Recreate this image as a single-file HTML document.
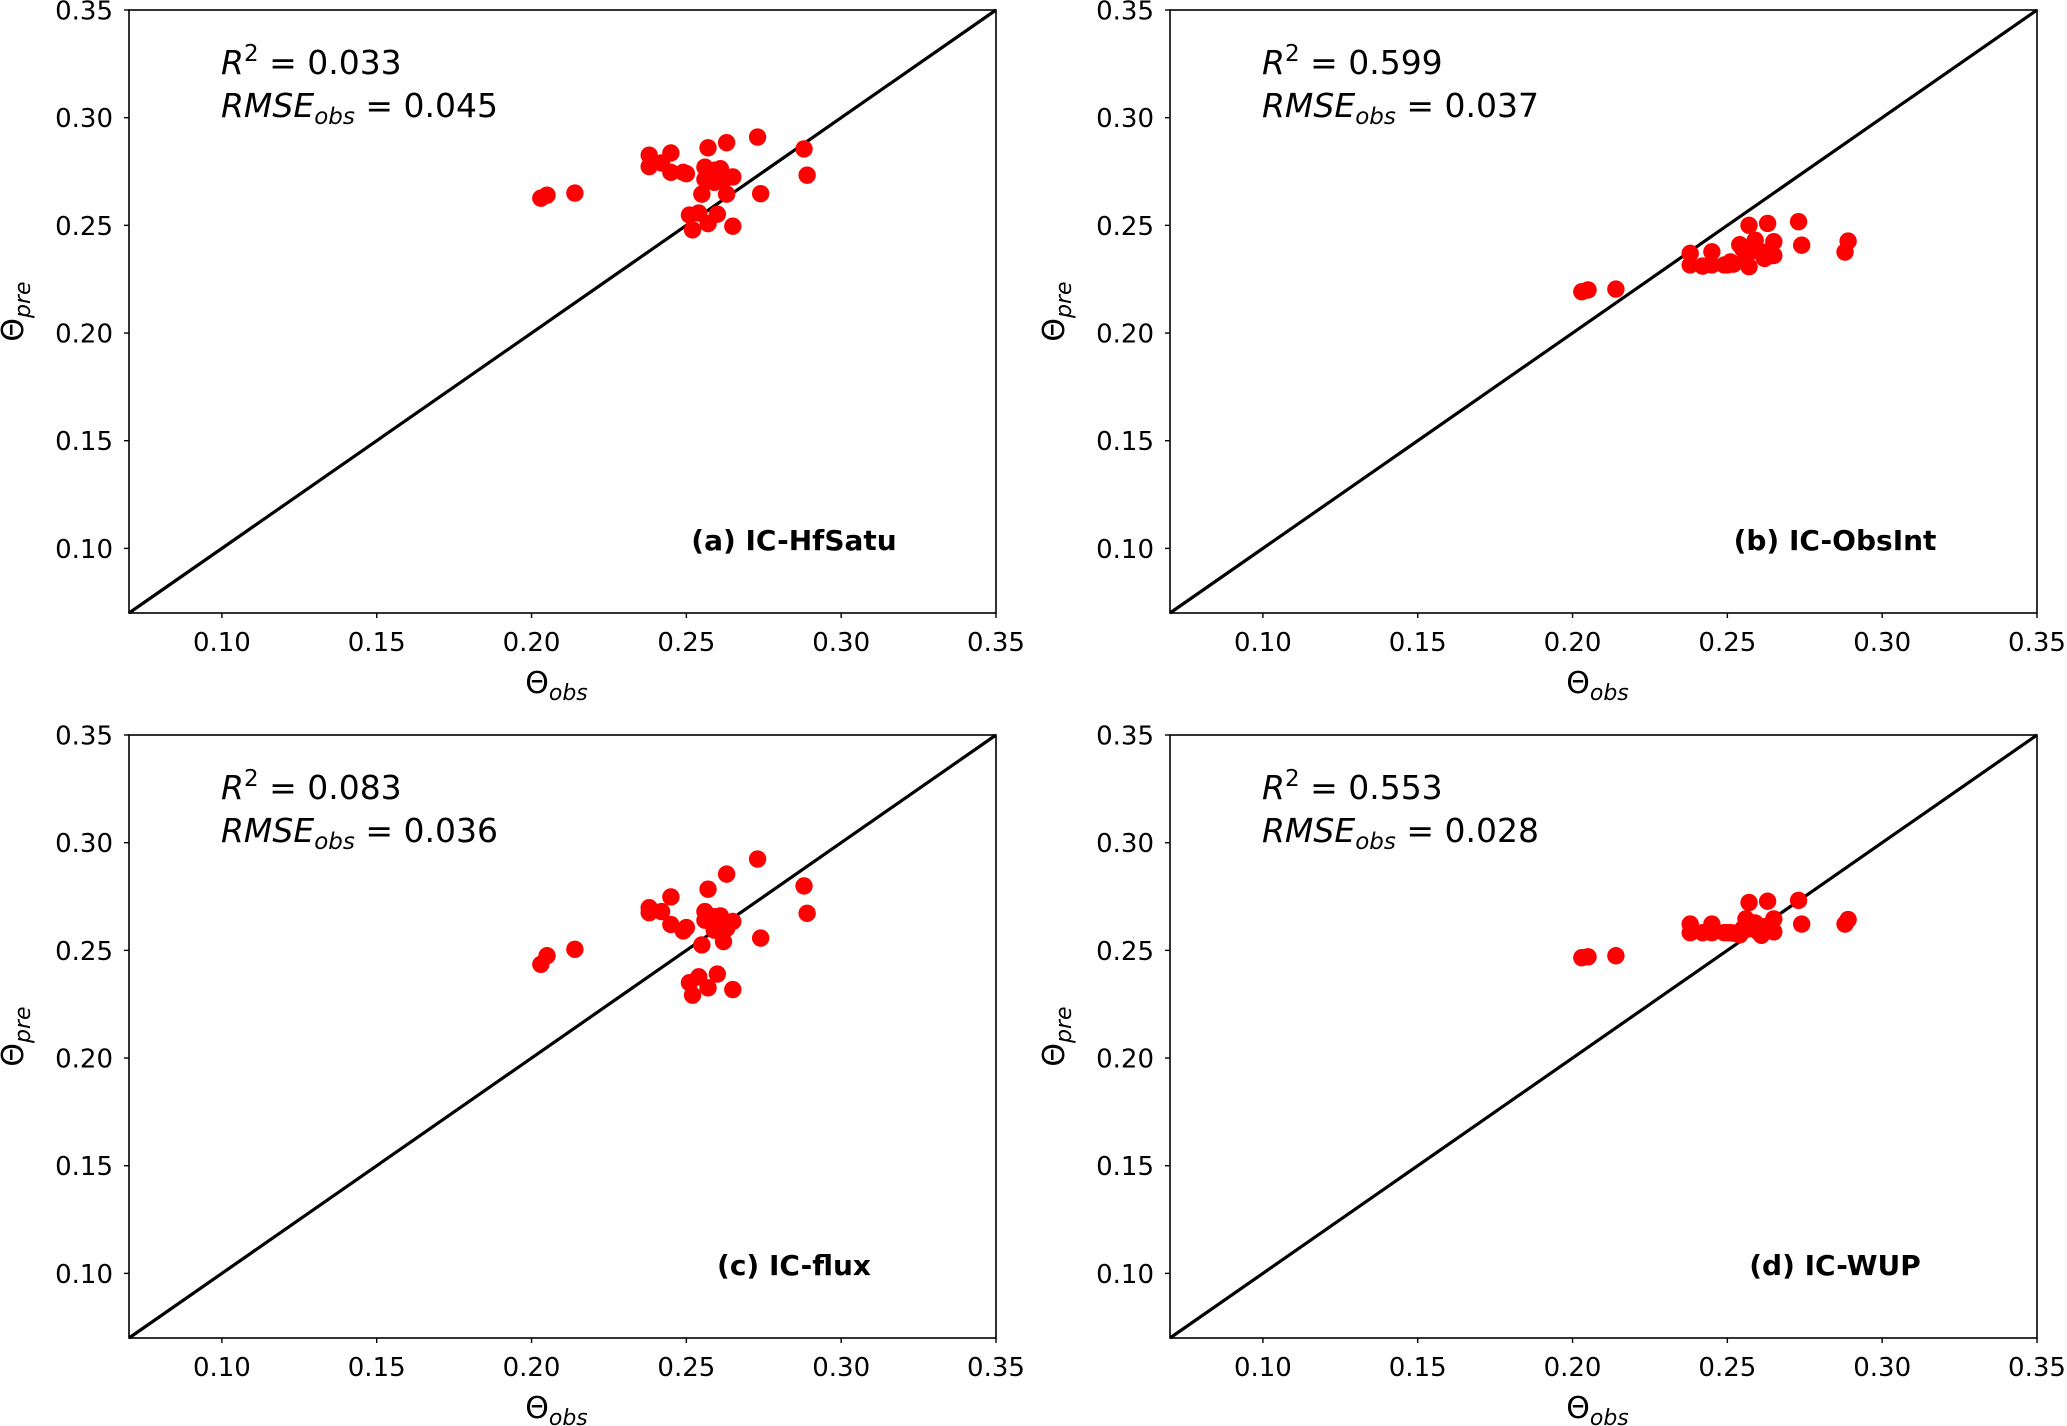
<!DOCTYPE html>
<html><head><meta charset="utf-8">
<style>
html,body{margin:0;padding:0;background:#fff;}
svg{display:block;font-family:"DejaVu Sans","Liberation Sans",sans-serif;}
</style></head>
<body>
<svg id="fig" width="2067" height="1426" viewBox="0 0 2067 1426" xmlns="http://www.w3.org/2000/svg"></svg>
<script>
const obsValues = [0.203,0.205,0.214,0.238,0.238,0.242,0.245,0.245,0.249,0.250,0.257,0.263,0.273,0.288,0.289,0.274,0.256,0.256,0.259,0.261,0.265,0.263,0.255,0.262,0.251,0.254,0.260,0.252,0.257,0.265,0.259];
const preA = [0.2626,0.264,0.265,0.2826,0.2773,0.279,0.2836,0.2746,0.2746,0.274,0.286,0.2884,0.291,0.2855,0.2733,0.2647,0.277,0.2714,0.2756,0.2763,0.2725,0.2645,0.2645,0.271,0.2548,0.2557,0.2552,0.2479,0.2508,0.2496,0.270];
const preB = [0.2192,0.2200,0.2204,0.237,0.2316,0.2311,0.2377,0.2316,0.2316,0.2316,0.250,0.2509,0.2517,0.2376,0.2427,0.2408,0.2395,0.2360,0.2431,0.2377,0.2424,0.2355,0.2390,0.2346,0.2330,0.2410,0.2380,0.2320,0.2308,0.2360,0.2400];
const preC = [0.2435,0.2475,0.2505,0.2698,0.2675,0.268,0.2748,0.262,0.259,0.2606,0.2784,0.2854,0.2924,0.2799,0.2672,0.2557,0.268,0.264,0.2656,0.266,0.2634,0.2602,0.2525,0.2541,0.235,0.2377,0.239,0.2292,0.2326,0.2318,0.2594];
const preD = [0.2466,0.2470,0.2475,0.2622,0.2582,0.2582,0.2622,0.2582,0.2582,0.2582,0.2722,0.2728,0.2732,0.2622,0.2643,0.2622,0.2646,0.2608,0.2627,0.2570,0.2646,0.2608,0.2600,0.2610,0.2582,0.2572,0.2586,0.2580,0.2600,0.2586,0.2610];
const tickLabels = ["0.10","0.15","0.20","0.25","0.30","0.35"];
const tickValues = [0.10,0.15,0.20,0.25,0.30,0.35];
const r2Labels = ["0.033","0.599","0.083","0.553"];
const rmseLabels = ["0.045","0.037","0.036","0.028"];
const panelTitles = ["(a) IC-HfSatu","(b) IC-ObsInt","(c) IC-flux","(d) IC-WUP"];

const NS="http://www.w3.org/2000/svg";
const svg=document.getElementById('fig');
const panels=[
 {x0:129,x1:996,y0:10,y1:613,pre:preA,key:'a'},
 {x0:1170,x1:2037,y0:10,y1:613,pre:preB,key:'b'},
 {x0:129,x1:996,y0:735,y1:1338,pre:preC,key:'c'},
 {x0:1170,x1:2037,y0:735,y1:1338,pre:preD,key:'d'}
];
const VMIN=0.07,VMAX=0.35;
function mk(tag,attrs,parent){const e=document.createElementNS(NS,tag);for(const k in attrs)e.setAttribute(k,attrs[k]);(parent||svg).appendChild(e);return e;}

panels.forEach((p,i)=>{
  const sx=v=>p.x0+(v-VMIN)/(VMAX-VMIN)*(p.x1-p.x0);
  const sy=v=>p.y1-(v-VMIN)/(VMAX-VMIN)*(p.y1-p.y0);
  const g=mk('g',{});
  
  
  const ln=mk('line',{x1:sx(VMIN),y1:sy(VMIN),x2:sx(VMAX),y2:sy(VMAX),stroke:'#000','stroke-width':3.2},g);
  
  
  obsValues.forEach((o,j)=>{
    const c=mk('circle',{cx:sx(o),cy:sy(p.pre[j]),r:8.7,fill:'#ff0000'},g);
    
    
  });
  const fr=mk('rect',{x:p.x0,y:p.y0,width:p.x1-p.x0,height:p.y1-p.y0,fill:'none',stroke:'#000','stroke-width':1.6},g);
  
  
  tickValues.forEach((v,k)=>{
    const X=sx(v);
    mk('line',{x1:X,y1:p.y1,x2:X,y2:p.y1+5,stroke:'#000','stroke-width':1.4},g);
    const t=mk('text',{x:X,y:p.y1+38,'font-size':26,'text-anchor':'middle',fill:'#000'},g);
    t.textContent=tickLabels[k];
    
    
    const Y=sy(v);
    mk('line',{x1:p.x0-5,y1:Y,x2:p.x0,y2:Y,stroke:'#000','stroke-width':1.4},g);
    const u=mk('text',{x:p.x0-16,y:Y+9.5,'font-size':26,'text-anchor':'end',fill:'#000'},g);
    u.textContent=tickLabels[k];
    
    
  });
  const xt=mk('text',{x:(p.x0+p.x1)/2 - 6,y:p.y1+80,'font-size':30,'text-anchor':'middle',fill:'#000'},g);
  xt.innerHTML='Θ<tspan font-style="italic" font-size="22" dy="7">obs</tspan>';
  
  
  const yc=(p.y0+p.y1)/2;
  const yt=mk('text',{x:p.x0-106,y:yc,'font-size':30,'text-anchor':'middle',fill:'#000',transform:`rotate(-90 ${p.x0-106} ${yc})`},g);
  yt.innerHTML='Θ<tspan font-style="italic" font-size="22" dy="7">pre</tspan>';
  
  
  const s1=mk('text',{x:p.x0+92,y:p.y0+64,'font-size':33,fill:'#000'},g);
  s1.innerHTML='<tspan font-style="italic">R</tspan><tspan font-size="23" dy="-13">2</tspan><tspan dy="13"> = '+r2Labels[i]+'</tspan>';
  
  
  const s2=mk('text',{x:p.x0+92,y:p.y0+107,'font-size':33,fill:'#000'},g);
  s2.innerHTML='<tspan font-style="italic">RMSE</tspan><tspan font-style="italic" font-size="23" dy="7">obs</tspan><tspan dy="-7"> = '+rmseLabels[i]+'</tspan>';
  
  
  const pt=mk('text',{x:p.x0+665,y:p.y0+540,'font-size':28,'font-weight':'bold','text-anchor':'middle',fill:'#000'},g);
  pt.textContent=panelTitles[i];
  
  
});
</script>
</body></html>
